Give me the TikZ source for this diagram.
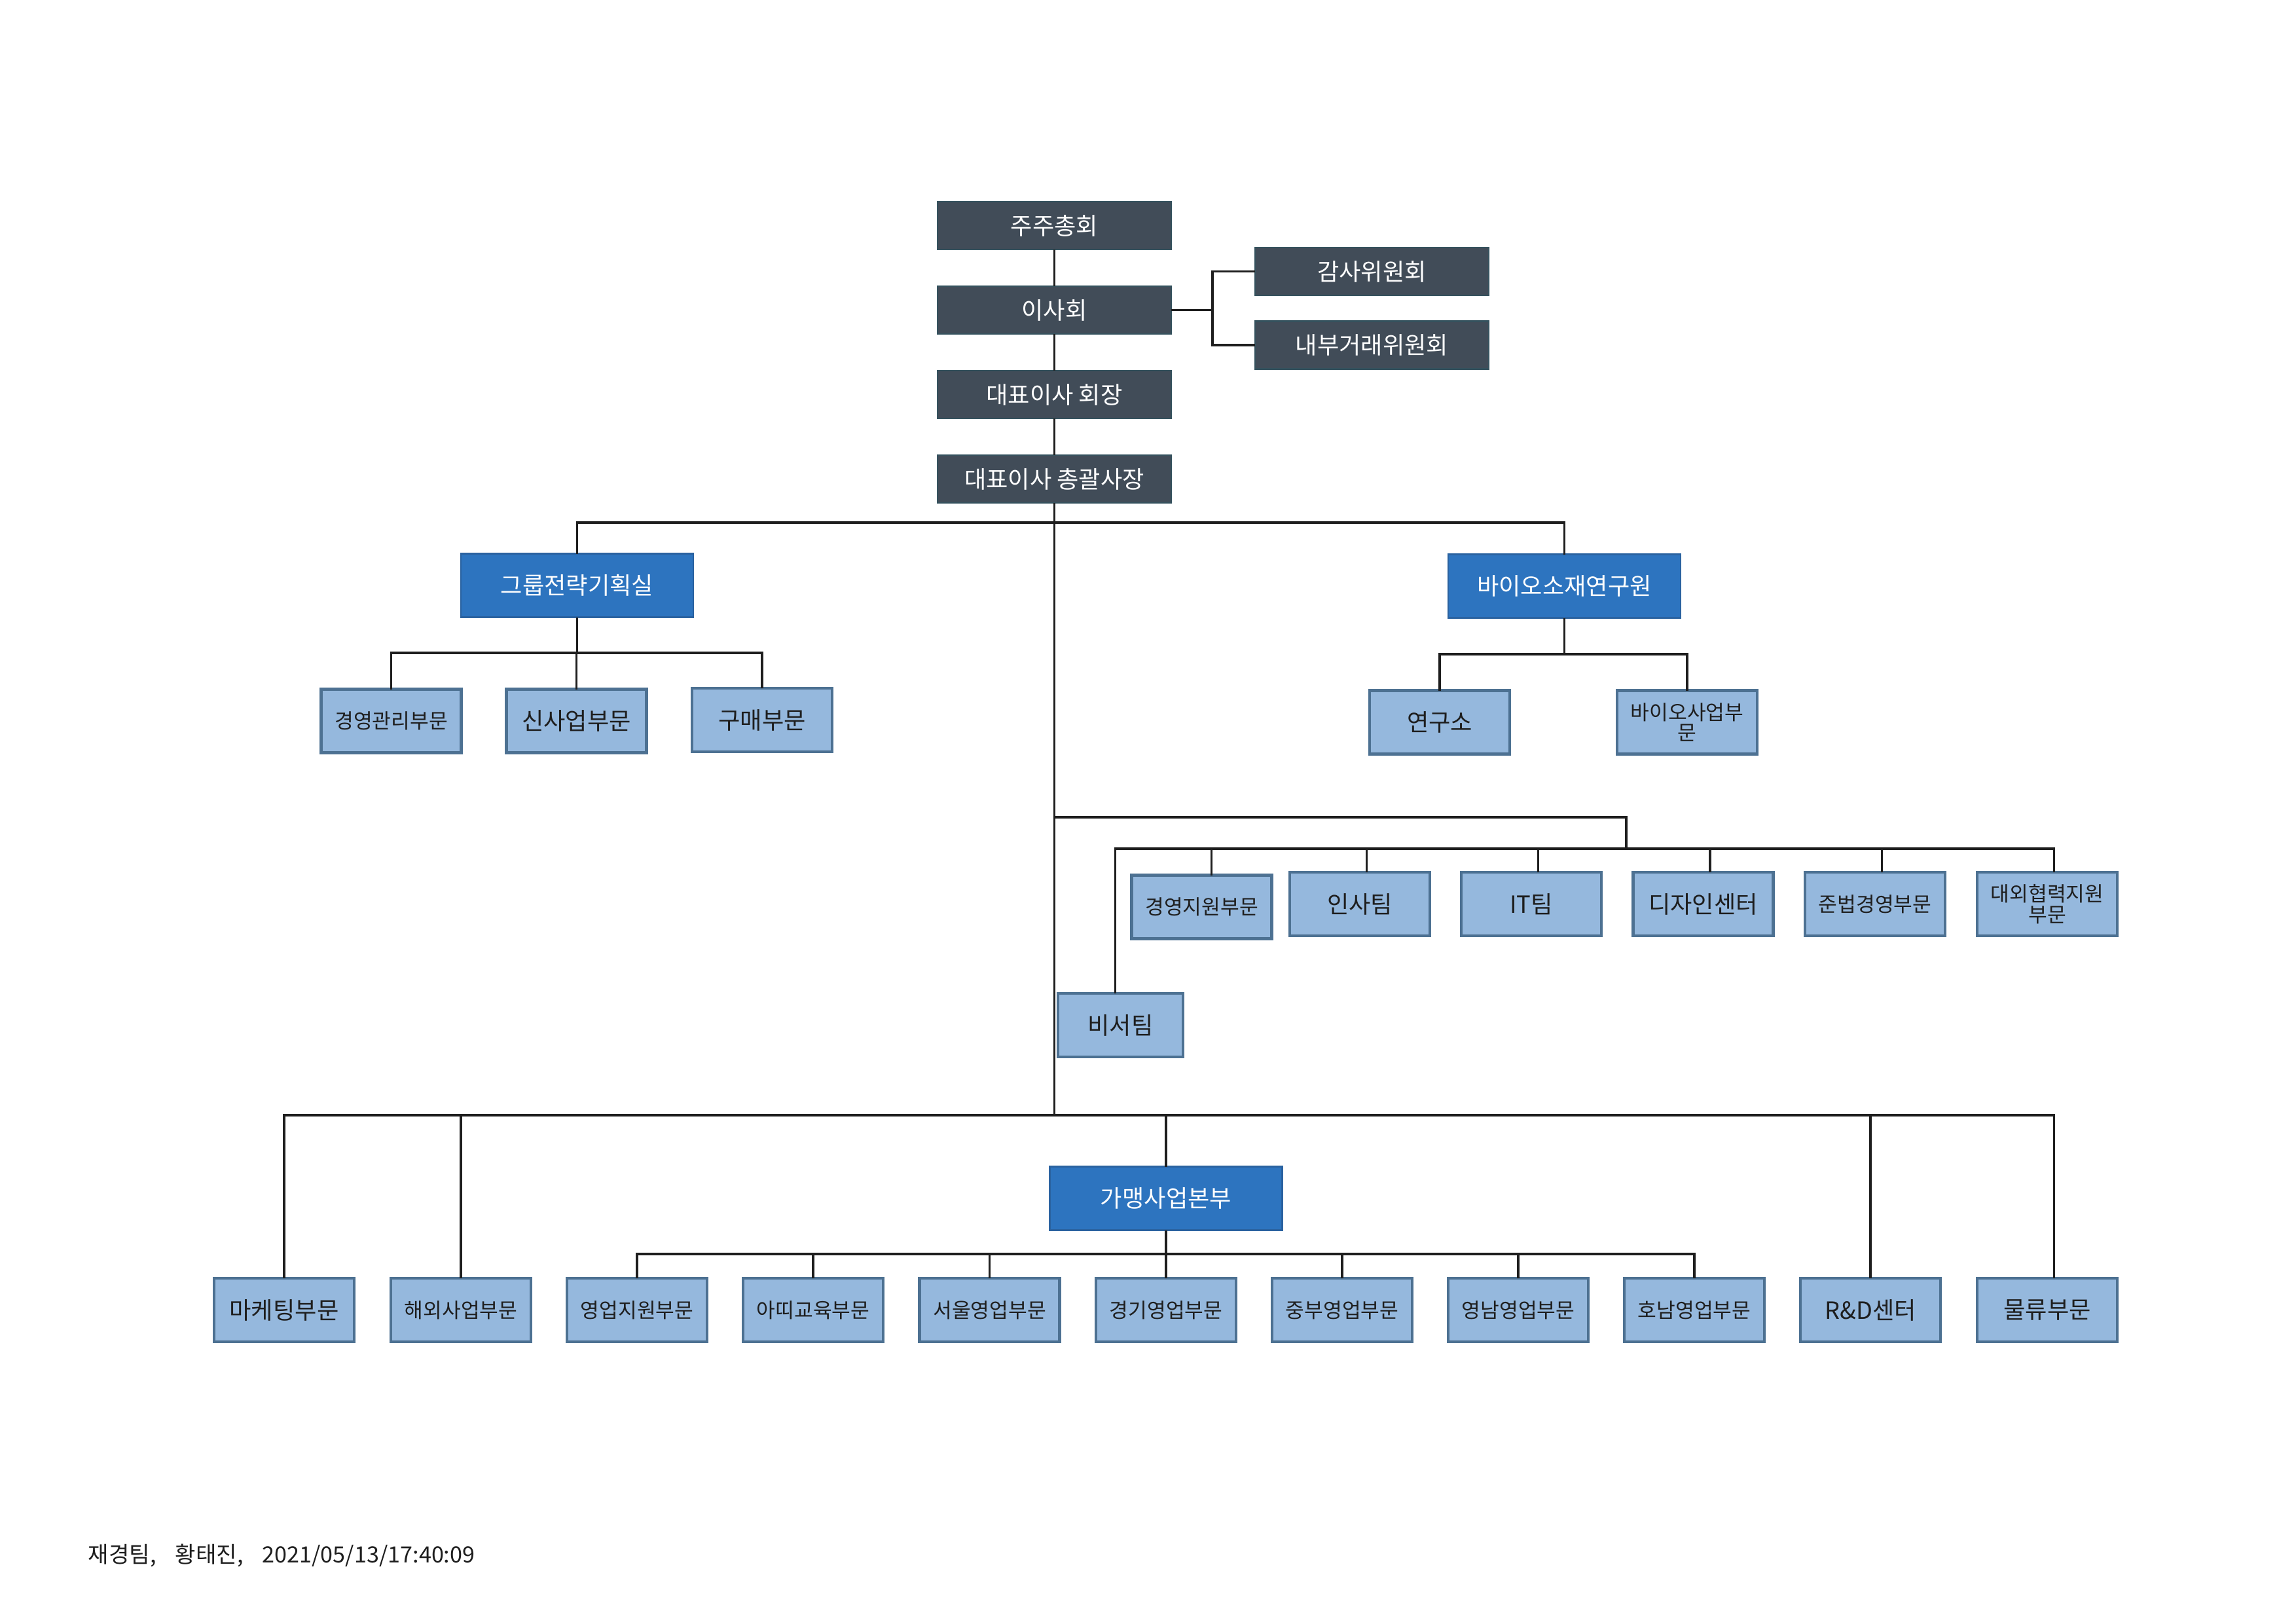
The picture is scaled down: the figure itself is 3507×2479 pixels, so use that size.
\documentclass[tikz,border=0pt]{standalone}
\usepackage{fontspec}
\setmainfont{Noto Sans CJK KR}
\definecolor{darkbox}{HTML}{414C58}
\definecolor{darkedge}{HTML}{35525E}
\definecolor{midbox}{HTML}{2D74BF}
\definecolor{midedge}{HTML}{2A62A0}
\definecolor{lightbox}{HTML}{95B8DD}
\definecolor{lightedge}{HTML}{4D7192}
\definecolor{ink}{HTML}{1E1E1E}
\tikzset{
  base/.style={rectangle, inner sep=0pt, outer sep=0pt, align=center},
  dbox/.style={base, fill=darkbox, draw=darkedge, line width=0.6pt, text=white,
    minimum width=357*0.24pt, minimum height=73*0.24pt, font=\fontsize{8.7}{9.5}\selectfont},
  mbox/.style={base, fill=midbox, draw=midedge, line width=0.6pt, text=white,
    minimum width=355*0.24pt, minimum height=97*0.24pt, font=\fontsize{8.7}{9.5}\selectfont},
  lbox/.style={base, fill=lightbox, draw=lightedge, line width=1pt, text=ink,
    minimum width=214*0.24pt, minimum height=97*0.24pt, font=\fontsize{8.7}{9.5}\selectfont},
  sbox/.style={lbox, font=\fontsize{7.5}{7.6}\selectfont},
  link/.style={line width=0.75pt, draw=ink},
}
\begin{document}
\begin{tikzpicture}[x=0.24pt, y=-0.24pt]
\fill[white] (0,0) rectangle (3507,2479);
\useasboundingbox (0,0) rectangle (3507,2479);

% top chain
\node[dbox] (ju) at (1610.5,344.5) {주주총회};
\node[dbox] (isa) at (1610.5,473.5) {이사회};
\node[dbox] (hoe) at (1610.5,602.5) {대표이사 회장};
\node[dbox] (chong) at (1610.5,731.5) {대표이사 총괄사장};
\node[dbox] (gamsa) at (2095.5,414.5) {감사위원회};
\node[dbox] (naebu) at (2095.5,527) {내부거래위원회};

% second level
\node[mbox] (grp) at (881.5,894) {그룹전략기획실};
\node[mbox] (bio) at (2389.5,895) {바이오소재연구원};

\node[sbox] (gyeong) at (597.5,1101) {경영관리부문};
\node[lbox] (sin) at (880.5,1101) {신사업부문};
\node[lbox] (gu) at (1164,1099.5) {구매부문};
\node[lbox] (yeon) at (2199,1103) {연구소};
\node[sbox] (bsa) at (2577,1103) {바이오사업부\\문};

% staff row
\node[sbox] (gj) at (1835.5,1385) {경영지원부문};
\node[lbox] (insa) at (2077,1380.5) {인사팀};
\node[lbox] (it) at (2339,1380.5) {IT팀};
\node[lbox] (dz) at (2601.5,1380.5) {디자인센터};
\node[sbox] (jb) at (2864,1380.5) {준법경영부문};
\node[sbox] (dw) at (3127,1380.5) {대외협력지원\\부문};
\node[lbox, minimum width=191*0.24pt] (bs) at (1711.5,1565.5) {비서팀};

% franchise
\node[mbox] (gm) at (1781,1830) {가맹사업본부};

% bottom row
\node[lbox] (mk) at (434,2000.5) {마케팅부문};
\node[sbox] (hw) at (704,2000.5) {해외사업부문};
\node[sbox] (yjw) at (973,2000.5) {영업지원부문};
\node[sbox] (at) at (1242,2000.5) {아띠교육부문};
\node[sbox] (su) at (1511.5,2000.5) {서울영업부문};
\node[sbox] (gg) at (1781,2000.5) {경기영업부문};
\node[sbox] (jbu) at (2050,2000.5) {중부영업부문};
\node[sbox] (yn) at (2319,2000.5) {영남영업부문};
\node[sbox] (hn) at (2588,2000.5) {호남영업부문};
\node[lbox] (rd) at (2857,2000.5) {R\&D센터};
\node[lbox] (ml) at (3127,2000.5) {물류부문};

% footer
\node[anchor=west, inner sep=0pt, text=ink, font=\fontsize{8.2}{9}\selectfont] (foot) at (134,2375) {재경팀,\hspace{7pt}황태진,\hspace{7pt}2021/05/13/17:40:09};

% coordinates for bars
\coordinate (br1) at (1852,473.5);
\coordinate (bar1) at (1611,798);
\coordinate (barg) at (0,997);
\coordinate (barb) at (0,999);
\coordinate (b2a) at (1611,1248);
\coordinate (b2b) at (2484,1248);
\coordinate (b2c) at (2484,1296);
\coordinate (s2L) at (1703,1296);
\coordinate (s2R) at (3138,1296);
\coordinate (bar3) at (1611,1703);
\coordinate (bar4) at (0,1915);
\coordinate (gjT) at ([xshift=3.5pt]gj.north);
\coordinate (insaT) at ([xshift=2.5pt]insa.north);
\coordinate (itT) at ([xshift=2.5pt]it.north);
\coordinate (dzT) at ([xshift=2.5pt]dz.north);
\coordinate (jbT) at ([xshift=2.5pt]jb.north);
\coordinate (dwT) at ([xshift=2.6pt]dw.north);
\coordinate (bsT) at ([xshift=-2pt]bs.north);
\coordinate (mlT) at ([xshift=2.6pt]ml.north);

% top links
\draw[link] (ju.south) -- (isa.north);
\draw[link] (isa.south) -- (hoe.north);
\draw[link] (hoe.south) -- (chong.north);
\draw[link] (isa.east) -- (br1);
\draw[link] (gamsa.west) -| (br1) |- (naebu.west);

% trunk
\draw[link] (chong.south) -- (chong.south |- bar3);

% second-level bar
\draw[link] (grp.north) -- (grp.north |- bar1) -- (bio.north |- bar1) -- (bio.north);
\draw[link] (grp.south) -- (grp.south |- barg);
\draw[link] (gyeong.north) -- (gyeong.north |- barg) -- (gu.north |- barg) -- (gu.north);
\draw[link] (sin.north) -- (sin.north |- barg);
\draw[link] (bio.south) -- (bio.south |- barb);
\draw[link] (yeon.north) -- (yeon.north |- barb) -- (bsa.north |- barb) -- (bsa.north);

% staff
\draw[link] (b2a) -- (b2b) -- (b2c);
\draw[link] (bsT) -- (bsT |- s2L) -- (dwT |- s2R) -- (dwT);
\draw[link] (gjT) -- (gjT |- s2L);
\draw[link] (insaT) -- (insaT |- s2L);
\draw[link] (itT) -- (itT |- s2L);
\draw[link] (dzT) -- (dzT |- s2L);
\draw[link] (jbT) -- (jbT |- s2L);

% bottom bar
\draw[link] (mk.north) -- (mk.north |- bar3) -- (mlT |- bar3) -- (mlT);
\draw[link] (hw.north) -- (hw.north |- bar3);
\draw[link] (gm.north) -- (gm.north |- bar3);
\draw[link] (rd.north) -- (rd.north |- bar3);

% franchise sub bar
\draw[link] (gm.south) -- (gg.north);
\draw[link] (yjw.north) -- (yjw.north |- bar4) -- (hn.north |- bar4) -- (hn.north);
\draw[link] (at.north) -- (at.north |- bar4);
\draw[link] (su.north) -- (su.north |- bar4);
\draw[link] (jbu.north) -- (jbu.north |- bar4);
\draw[link] (yn.north) -- (yn.north |- bar4);
\end{tikzpicture}
\end{document}
